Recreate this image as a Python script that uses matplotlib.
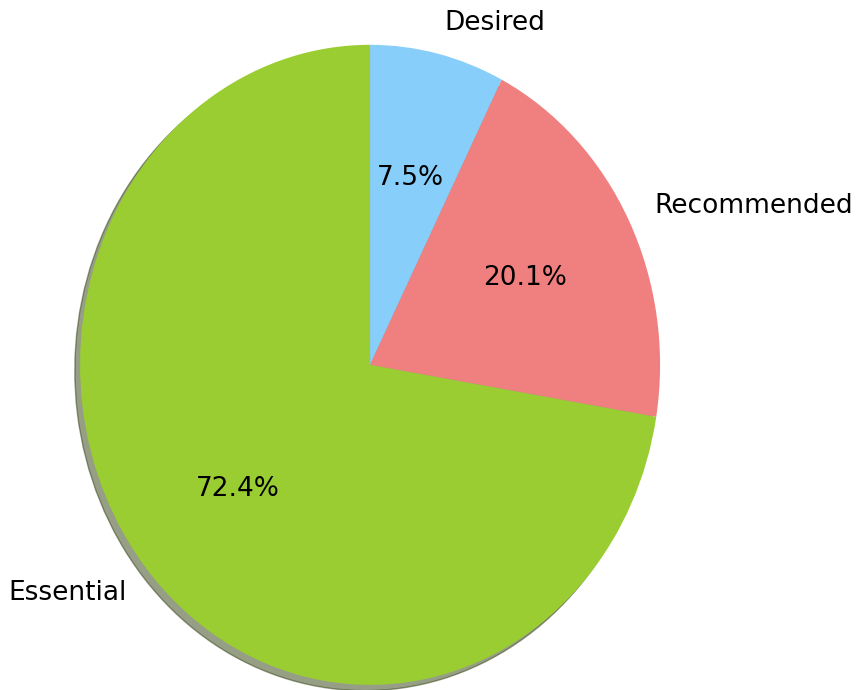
import matplotlib
matplotlib.use("Agg")
import matplotlib.pyplot as plt

labels = ["Desired", "Recommended", "Essential"]
sizes = [7.5, 20.1, 72.4]
colors = ["lightskyblue", "lightcoral", "yellowgreen"]

fig = plt.figure(figsize=(8.57, 6.9), dpi=100)
ax = fig.add_axes([0, 0, 1, 1])
ax.pie(sizes, labels=labels, colors=colors, autopct="%1.1f%%",
       startangle=90, counterclock=False,
       shadow={"ox": -0.013, "oy": -0.013},
       textprops={"fontsize": 19})
ax.set_aspect("auto")
ax.set_xlim(-1.276, 1.679)
ax.set_ylim(-1.016, 1.14)

fig.savefig("out.png", dpi=100)
